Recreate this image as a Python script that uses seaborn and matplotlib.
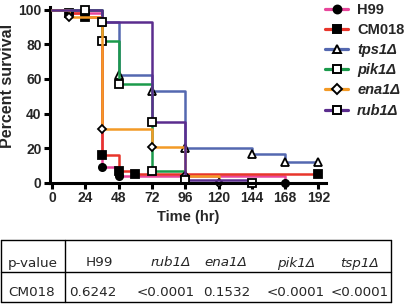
import matplotlib
matplotlib.use("Agg")
import matplotlib.pyplot as plt
import seaborn as sns
import pandas as pd
from matplotlib.lines import Line2D

# ---- data ----
strains = ["H99", "CM018", "tps1Δ", "pik1Δ", "ena1Δ", "rub1Δ"]
italic = [False, False, True, True, True, True]
h99_t = [0, 12, 36, 48, 168]
h99_s = [100, 98, 9, 4, 0]
cm018_t = [0, 12, 24, 36, 48, 60, 192]
cm018_s = [100, 98, 96, 16, 7, 5, 5]
tps1_t = [0, 36, 48, 72, 96, 144, 168, 192]
tps1_s = [100, 93, 62, 53, 20, 17, 12, 12]
pik1_t = [0, 36, 48, 72, 96]
pik1_s = [100, 82, 57, 7, 2]
ena1_t = [0, 12, 36, 72, 96, 120]
ena1_s = [100, 96, 31, 21, 4, 0]
rub1_t = [0, 24, 36, 72, 96, 144]
rub1_s = [100, 100, 93, 35, 2, 0]

xticks = [0, 24, 48, 72, 96, 120, 144, 168, 192]
yticks = [0, 20, 40, 60, 80, 100]

table_header = ["p-value", "H99", "rub1Δ", "ena1Δ", "pik1Δ", "tsp1Δ"]
table_row = ["CM018", "0.6242", "<0.0001", "0.1532", "<0.0001", "<0.0001"]
header_italic = [False, False, True, True, True, True]

# ---- styles ----
colors = ["#E8469B", "#E8352B", "#5468B0", "#1B9A4B", "#F39A26", "#5B2D8E"]
markers = ["o", "s", "^", "s", "D", "s"]
msizes = [5.2, 5.2, 5.5, 5.5, 4.3, 5.5]
faces = ["black", "black", "white", "white", "white", "white"]

series = [(h99_t, h99_s), (cm018_t, cm018_s), (tps1_t, tps1_s),
          (pik1_t, pik1_s), (ena1_t, ena1_s), (rub1_t, rub1_s)]

sns.set_style("ticks")
plt.rcParams["font.family"] = ["Liberation Sans", "DejaVu Sans"]

fig = plt.figure(figsize=(4.08, 3.04), dpi=100)
ax = fig.add_axes([50 / 408, 1 - 183 / 304, 276 / 408, 176 / 304])

for name, (t, s), c, m, ms, fc in zip(strains, series, colors, markers, msizes, faces):
    df = pd.DataFrame({"Time": t, "Survival": s})
    sns.lineplot(data=df, x="Time", y="Survival", ax=ax, color=c,
                 drawstyle="steps-post", linewidth=1.8, marker=m,
                 markersize=ms, markerfacecolor=fc, markeredgecolor="black",
                 markeredgewidth=1.3, markevery=list(range(1, len(t))),
                 clip_on=False, legend=False)

ax.set_xlim(-1.5, 197.5)
ax.set_ylim(0, 101.5)
ax.set_xticks(xticks)
ax.set_yticks(yticks)
for sp in ["top", "right"]:
    ax.spines[sp].set_visible(False)
for sp in ["left", "bottom"]:
    ax.spines[sp].set_linewidth(2.2)
    ax.spines[sp].set_color("black")
ax.spines["left"].set_zorder(1)
ax.tick_params(width=2.2, length=4, labelsize=10, color="black", pad=2)
for lab in ax.get_xticklabels() + ax.get_yticklabels():
    lab.set_fontweight("bold")
ax.set_xlabel("Time (hr)", fontsize=10.5, fontweight="bold", labelpad=3)
ax.set_ylabel("Percent survival", fontsize=11.5, fontweight="bold")
ax.yaxis.set_label_coords(-0.125, 0.55)

handles = [Line2D([], [], color=c, lw=2.3, marker=m, markersize=ms + 0.5,
                  markerfacecolor=fc, markeredgecolor="black", markeredgewidth=1.4)
           for c, m, ms, fc in zip(colors, markers, msizes, faces)]
leg = fig.legend(handles, strains, loc="upper left", bbox_to_anchor=(325 / 408, 1 - 3 / 304),
                 frameon=False, fontsize=10.5, handlelength=1.6, handletextpad=0.6,
                 labelspacing=0.42, borderaxespad=0, borderpad=0)
for txt, it in zip(leg.get_texts(), italic):
    txt.set_fontweight("bold")
    if it:
        txt.set_fontstyle("italic")

# ---- p-value table ----
L, R, T, M, B = 1, 391, 240, 272, 302
div = 65
def fx(x): return x / 408
def fy(y): return 1 - y / 304
for (x0, y0, x1, y1) in [(L, T, R, T), (L, B, R, B), (L, M, R, M), (L, T, L, B),
                         (R, T, R, B), (div, T, div, B)]:
    fig.add_artist(Line2D([fx(x0), fx(x1)], [fy(y0), fy(y1)], color="black", lw=1.0))
head_x = [33, 99, 171, 226, 296, 360]
row_x = [32, 93, 166, 227, 296, 360]
for hx, rx, h, v, it in zip(head_x, row_x, table_header, table_row, header_italic):
    fig.text(fx(hx), fy(263), h, ha="center", va="center", fontsize=9.7,
             family="DejaVu Sans", style="italic" if it else "normal")
    fig.text(fx(rx), fy(293), v, ha="center", va="center", fontsize=9.7,
             family="DejaVu Sans")

fig.savefig("out.png", dpi=100)
